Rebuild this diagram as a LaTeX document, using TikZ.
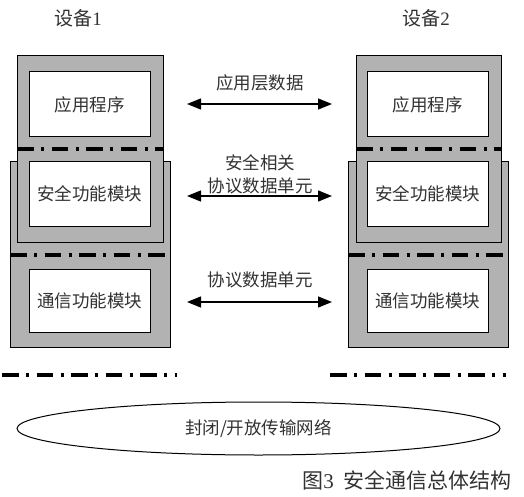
\documentclass[tikz,border=0pt]{standalone}
\usepackage{fontspec}
\setmainfont{Liberation Serif}
\newfontfamily\cjk{Noto Sans CJK SC}
\usetikzlibrary{shapes.geometric,arrows.meta}
\definecolor{boxgray}{RGB}{178,178,178}
\definecolor{txt}{RGB}{50,50,50}
\tikzset{
  graybox/.style={draw=black,line width=1pt,fill=boxgray,inner sep=0pt,minimum width=#1},
  modbox/.style={draw=black,line width=1pt,fill=white,inner sep=0pt,minimum width=121pt,
     text=txt,font=\cjk\fontsize{17.5}{20}\selectfont},
  layerline/.style={line width=3.5pt,dash pattern=on 16.5pt off 7.5pt on 3pt off 7.5pt},
  dataarrow/.style={line width=1.3pt,{Triangle[length=14pt,width=11pt]}-{Triangle[length=14pt,width=11pt]}},
  lbl/.style={text=txt,font=\cjk\fontsize{17.5}{20}\selectfont,inner sep=0pt,align=center},
}
\begin{document}
\begin{tikzpicture}[x=1pt,y=-1pt]
\useasboundingbox (0,0) rectangle (524,497);
% titles
\node[lbl,font=\fontsize{19}{22}\selectfont] (t1) at (78,18) {{\cjk 设备}1};
\node[lbl,font=\fontsize{19}{22}\selectfont] (t2) at (426,18) {{\cjk 设备}2};
% left device
\node[graybox=160pt,minimum height=185pt] (Llow) at (90,254.5) {};
\node[graybox=146pt,minimum height=186pt] (Lup) at (90,149) {};
\node[modbox,minimum height=65pt] (Lapp) at (89.5,104.5) {应用程序};
\node[modbox,minimum height=64pt] (Lsec) at (89.5,194) {安全功能模块};
\node[modbox,minimum height=63pt] (Lcom) at (89.5,300.5) {通信功能模块};
\coordinate (L1a) at (17,149); \coordinate (L1b) at (163,149);
\coordinate (L2a) at (10,255); \coordinate (L2b) at (166,255);
\draw[layerline] (L1a) -- (L1b);
\draw[layerline] (L2a) -- (L2b);
% right device
\node[graybox=160pt,minimum height=185pt] (Rlow) at (428,254.5) {};
\node[graybox=145pt,minimum height=186pt] (Rup) at (428.5,149) {};
\node[modbox,minimum height=65pt] (Rapp) at (427.5,104.5) {应用程序};
\node[modbox,minimum height=64pt] (Rsec) at (427.5,194) {安全功能模块};
\node[modbox,minimum height=63pt] (Rcom) at (427.5,300.5) {通信功能模块};
\coordinate (R1a) at (356,149); \coordinate (R1b) at (502,149);
\coordinate (R2a) at (348,255); \coordinate (R2b) at (504,255);
\draw[layerline] (R1a) -- (R1b);
\draw[layerline] (R2a) -- (R2b);
% arrows
\coordinate (A1a) at (187,104); \coordinate (A1b) at (332,104);
\coordinate (A2a) at (187,196); \coordinate (A2b) at (332,196);
\coordinate (A3a) at (187,302); \coordinate (A3b) at (332,302);
\draw[dataarrow] (A1a) -- (A1b);
\draw[dataarrow] (A2a) -- (A2b);
\draw[dataarrow] (A3a) -- (A3b);
\node[lbl] (l1) at (260,83) {应用层数据};
\node[lbl] (l2a) at (260,163) {安全相关};
\node[lbl] (l2b) at (260,186) {协议数据单元};
\node[lbl] (l3) at (260,280) {协议数据单元};
% bottom lines
\coordinate (B1a) at (2,375); \coordinate (B1b) at (177,375);
\coordinate (B2a) at (330,375); \coordinate (B2b) at (506,375);
\draw[layerline] (B1a) -- (B1b);
\draw[layerline] (B2a) -- (B2b);
% network
\node[ellipse,draw=black,line width=1pt,minimum width=483pt,minimum height=53pt,inner sep=0pt,
  text=txt,font=\cjk\fontsize{17.5}{20}\selectfont] (net) at (258.5,428.5) {封闭/开放传输网络};
% caption
\node[lbl,font=\fontsize{21}{24}\selectfont,anchor=east] (cap) at (512,480) {{\cjk 图}3\kern10pt{\cjk 安全通信总体结构}};
\end{tikzpicture}
\end{document}
